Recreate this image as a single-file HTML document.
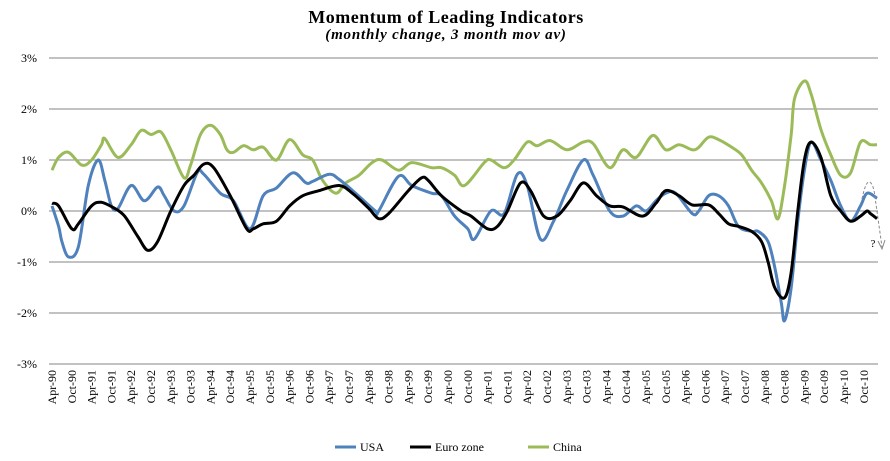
<!DOCTYPE html>
<html><head><meta charset="utf-8">
<style>
html,body{margin:0;padding:0;background:#fff;}
svg{display:block;font-family:"Liberation Serif",serif;}
</style></head>
<body>
<svg id="chart" width="890" height="461" viewBox="0 0 890 461" xmlns="http://www.w3.org/2000/svg">
<text x="446" y="23" text-anchor="middle" font-size="18" font-weight="bold" fill="#000" letter-spacing="0.5">Momentum of Leading Indicators</text>
<text x="446" y="39" text-anchor="middle" font-size="15" font-weight="bold" font-style="italic" fill="#000" letter-spacing="0.8">(monthly change, 3 month mov av)</text>
<g id="grid"></g>
<g id="yticks"></g>
<g id="xticks"></g>
<g id="series"></g>
<g>
<path d="M862,199 Q868,170 874,190 L882,247" fill="none" stroke="#888" stroke-width="1" stroke-dasharray="3,2"/>
<path d="M878,241 L882,249 L885,240" fill="none" stroke="#888" stroke-width="1"/>
<text x="873" y="247" text-anchor="middle" font-size="11" fill="#000">?</text>
</g>
<g id="legend"></g>
</svg>
<script>
const yTicks = [3, 2, 1, 0, -1, -2, -3];
const xLabelsMonths = ["Apr","Oct"];
const startYear = 90;
const labelCount = 42;
const usaMonths = [0,2,3,5,8,11,14,16,18,20,24,28,32,34,37,40,44,46,51,55,60,64,68,73,77,79,84,87,92,98,99,105,109,115,118,122,126,128,133,137,141,144,148,152,156,161,164,169,173,177,180,183,186,189,194,196,199,202,205,208,212,214,217,219,221,222,224,226,228,230,233,236,239,242,245,247,250];
const usaValues = [0.1,-0.3,-0.6,-0.9,-0.7,0.5,1.0,0.6,0.1,0.05,0.5,0.2,0.47,0.3,0.0,0.1,0.75,0.72,0.35,0.2,-0.35,0.3,0.45,0.75,0.55,0.58,0.72,0.62,0.35,0.0,0.0,0.68,0.5,0.35,0.3,-0.1,-0.35,-0.55,0.0,-0.05,0.72,0.5,-0.55,-0.2,0.4,1.0,0.7,0.0,-0.1,0.1,0.0,0.2,0.35,0.35,-0.05,0.0,0.3,0.3,0.1,-0.3,-0.4,-0.4,-0.6,-1.1,-1.8,-2.15,-1.5,-0.2,0.8,1.35,1.0,0.6,0.1,-0.2,0.1,0.35,0.25];
const euroMonths = [0,2,6,8,12,15,19,22,26,29,32,36,40,43,46,49,54,59,61,64,68,72,76,81,87,91,96,99,102,108,112,114,118,124,127,132,135,138,142,145,149,153,157,161,165,169,173,179,183,186,190,194,199,202,205,208,212,215,217,219,222,224,226,228,230,233,236,239,242,245,247,248,250];
const euroValues = [0.15,0.1,-0.35,-0.25,0.1,0.17,0.05,-0.1,-0.5,-0.77,-0.6,0.0,0.5,0.7,0.92,0.85,0.3,-0.35,-0.35,-0.25,-0.2,0.1,0.3,0.4,0.5,0.35,0.05,-0.15,-0.05,0.4,0.65,0.6,0.3,0.0,-0.1,-0.35,-0.3,0.0,0.55,0.4,-0.1,-0.1,0.2,0.55,0.3,0.1,0.08,-0.1,0.15,0.4,0.3,0.12,0.12,-0.05,-0.25,-0.3,-0.4,-0.6,-1.0,-1.5,-1.7,-1.2,0.0,1.0,1.35,1.05,0.3,0.0,-0.2,-0.1,0.0,-0.05,-0.15];
const chinaMonths = [0,2,5,9,12,15,16,20,24,27,30,33,36,40,42,45,48,51,53,55,58,61,64,68,72,76,79,82,86,89,93,97,100,105,109,115,118,122,125,131,133,137,140,144,147,151,156,161,164,169,173,177,182,186,190,194,196,199,202,206,209,212,215,218,220,222,224,225,228,230,233,236,239,242,245,248,250];
const chinaValues = [0.8,1.05,1.15,0.9,1.0,1.3,1.42,1.05,1.3,1.58,1.5,1.55,1.2,0.65,0.9,1.5,1.68,1.5,1.2,1.15,1.28,1.2,1.25,1.0,1.4,1.1,1.0,0.6,0.35,0.55,0.7,0.95,1.0,0.8,0.95,0.85,0.85,0.7,0.5,0.95,1.0,0.85,1.0,1.35,1.28,1.38,1.2,1.35,1.32,0.85,1.2,1.05,1.48,1.2,1.3,1.2,1.25,1.45,1.4,1.25,1.1,0.8,0.55,0.2,-0.15,0.5,1.5,2.2,2.55,2.3,1.6,1.1,0.7,0.75,1.35,1.3,1.3];

const NS = "http://www.w3.org/2000/svg";
const X0 = 52, PXM = 3.3, Y0 = 211, PXP = 51, GX0 = 49, GX1 = 878;
const xs = m => X0 + m * PXM;
const ys = v => Y0 - v * PXP;
function mk(tag, attrs, parent){ const e=document.createElementNS(NS,tag); for(const k in attrs) e.setAttribute(k,attrs[k]); parent.appendChild(e); return e; }

const grid=document.getElementById('grid'), yt=document.getElementById('yticks');
yTicks.forEach(v=>{
  const l=mk('line',{x1:GX0,x2:GX1,y1:ys(v),y2:ys(v),stroke:'#868686','stroke-width':1},grid);
  
  
  const t=mk('text',{x:37,y:ys(v)+4,'text-anchor':'end','font-size':12,fill:'#000'},yt);
  t.textContent=v+'%';
  
  
});
const xt=document.getElementById('xticks');
for(let i=0;i<labelCount;i++){
  const m=i*6, yr=(startYear+Math.floor((i*6+3)/12))%100;
  const lab=xLabelsMonths[i%2]+'-'+String(yr).padStart(2,'0');
  const x=xs(m)+4, y=370;
  const t=mk('text',{x:x,y:y,'text-anchor':'end','font-size':12,fill:'#000',transform:`rotate(-90 ${x} ${y})`},xt);
  t.textContent=lab;
  
  
}
function pathFor(ms,vs){
  const p=ms.map((m,i)=>[xs(m),ys(vs[i])]);
  let d=`M${p[0][0].toFixed(1)},${p[0][1].toFixed(1)}`;
  for(let i=0;i<p.length-1;i++){
    const a=p[i-1]||p[i], b=p[i], c=p[i+1], e=p[i+2]||c, k=1/6;
    d+=` C${(b[0]+(c[0]-a[0])*k).toFixed(1)},${(b[1]+(c[1]-a[1])*k).toFixed(1)} ${(c[0]-(e[0]-b[0])*k).toFixed(1)},${(c[1]-(e[1]-b[1])*k).toFixed(1)} ${c[0].toFixed(1)},${c[1].toFixed(1)}`;
  }
  return d;
}
const sg=document.getElementById('series');
const s1=mk('path',{d:pathFor(chinaMonths,chinaValues),fill:'none',stroke:'#9bbb59','stroke-width':3,'stroke-linejoin':'round'},sg);


const s2=mk('path',{d:pathFor(usaMonths,usaValues),fill:'none',stroke:'#4f81bd','stroke-width':3,'stroke-linejoin':'round'},sg);


const s3=mk('path',{d:pathFor(euroMonths,euroValues),fill:'none',stroke:'#000','stroke-width':3,'stroke-linejoin':'round'},sg);



const lg=document.getElementById('legend');
[['USA','#4f81bd',335],['Euro zone','#000',410],['China','#9bbb59',528]].forEach(([n,c,x])=>{
  const g=mk('g',{},lg);
  
  
  mk('line',{x1:x,x2:x+21,y1:447,y2:447,stroke:c,'stroke-width':3},g);
  const t=mk('text',{x:x+25,y:451,'font-size':12,fill:'#000'},g);
  t.textContent=n;
});
</script>
</body></html>
